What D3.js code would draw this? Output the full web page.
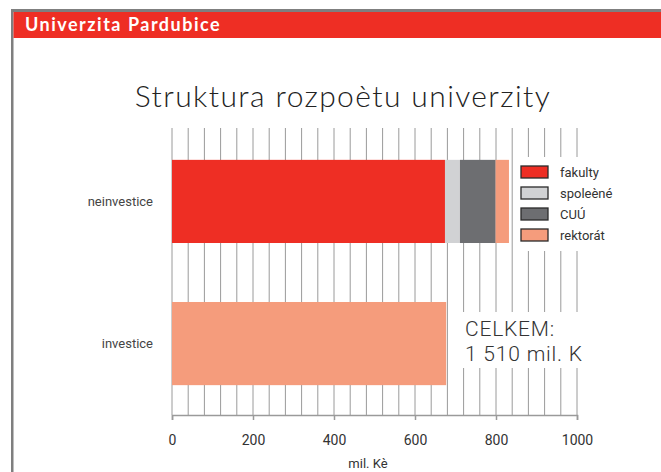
<!DOCTYPE html>
<html>
<head>
<meta charset="utf-8">
<script src="https://cdn.jsdelivr.net/npm/d3@7"></script>
<style>
  body { margin: 0; background: #fff; }
  svg { display: block; }
</style>
</head>
<body>
<svg width="661" height="472"></svg>
<script>
// data
var categories = ["neinvestice", "investice"];
var seriesNames = ["fakulty", "spoleèné", "CUÚ", "rektorát"];
var seriesColors = ["#ee2e24", "#d1d2d4", "#6d6e71", "#f59c7c"];
var neinvestice = [674, 37, 88, 33];
var investice = [0, 0, 0, 677];
var xTicks = [0, 200, 400, 600, 800, 1000];
var totalLines = ["CELKEM:", "1 510 mil. K"];

var svg = d3.select("svg");

// frame + header
svg.append("rect").attr("x", 11).attr("y", 9).attr("width", 650).attr("height", 3).attr("fill", "#7f7f7f");
svg.append("rect").attr("x", 11).attr("y", 9).attr("width", 2.5).attr("height", 463).attr("fill", "#7f7f7f");
svg.append("rect").attr("x", 13.5).attr("y", 12).attr("width", 648).attr("height", 26).attr("fill", "#ee2e24");
svg.append("text")
    .attr("x", 25).attr("y", 31)
    .attr("fill", "#fff")
    .attr("font-family", "Lato, 'Open Sans', sans-serif")
    .attr("font-weight", "bold")
    .attr("font-size", 18)
    .attr("letter-spacing", 1.5)
    .text("Univerzita Pardubice");

svg.append("text")
    .attr("x", 343).attr("y", 107)
    .attr("text-anchor", "middle")
    .attr("fill", "#222")
    .attr("font-family", "Lato, 'Open Sans', sans-serif")
    .attr("font-weight", 300)
    .attr("font-size", 30)
    .attr("letter-spacing", 1.4)
    .text("Struktura rozpoètu univerzity");

var x = d3.scaleLinear().domain([0, 1000]).range([172, 577]);
var y = d3.scaleBand().domain(categories).range([130, 415]).paddingInner(0.415).paddingOuter(0.21);

// gridlines every 40
svg.append("g").selectAll("line")
    .data(d3.range(0, 1001, 40))
    .enter().append("line")
    .attr("x1", function(d) { return x(d); })
    .attr("x2", function(d) { return x(d); })
    .attr("y1", 128).attr("y2", 415)
    .attr("stroke", "#9a9a9a")
    .attr("stroke-width", 1);

// bars
var table = categories.map(function(c, i) {
    var row = { cat: c };
    var vals = i === 0 ? neinvestice : investice;
    seriesNames.forEach(function(s, j) { row[s] = vals[j]; });
    return row;
});
var stack = d3.stack().keys(seriesNames)(table);

svg.append("g").selectAll("g")
    .data(stack)
    .enter().append("g")
    .attr("fill", function(d, i) { return seriesColors[i]; })
    .selectAll("rect")
    .data(function(d) { return d; })
    .enter().append("rect")
    .attr("x", function(d) { return x(d[0]); })
    .attr("y", function(d) { return y(d.data.cat); })
    .attr("width", function(d) { return x(d[1]) - x(d[0]); })
    .attr("height", y.bandwidth());

// white boxes behind legend and total
svg.append("rect").attr("x", 518).attr("y", 157).attr("width", 90).attr("height", 94).attr("fill", "#fff");
svg.append("rect").attr("x", 457).attr("y", 312).attr("width", 140).attr("height", 56).attr("fill", "#fff");

// x axis
var xAxis = svg.append("g")
    .attr("transform", "translate(0,415)")
    .call(d3.axisBottom(x).tickValues(xTicks).tickSize(5).tickPadding(15).tickFormat(d3.format("d")));
xAxis.select(".domain").attr("stroke", "#9a9a9a").attr("stroke-width", 1.5);
xAxis.selectAll(".tick line").attr("stroke", "#9a9a9a").attr("stroke-width", 1.5);
xAxis.selectAll(".tick text")
    .attr("fill", "#333")
    .attr("font-family", "Roboto, sans-serif")
    .attr("font-size", 14);

svg.append("text")
    .attr("x", 368).attr("y", 468)
    .attr("text-anchor", "middle")
    .attr("fill", "#333")
    .attr("font-family", "Roboto, sans-serif")
    .attr("font-size", 13)
    .text("mil. Kè");

// category labels
svg.append("g").selectAll("text")
    .data(categories)
    .enter().append("text")
    .attr("x", 153)
    .attr("y", function(d) { return y(d) + y.bandwidth() / 2; })
    .attr("dy", "0.35em")
    .attr("text-anchor", "end")
    .attr("fill", "#444")
    .attr("font-family", "Roboto, sans-serif")
    .attr("font-size", 13)
    .text(function(d) { return d; });

// legend
var legend = svg.append("g").selectAll("g")
    .data(seriesNames)
    .enter().append("g")
    .attr("transform", function(d, i) { return "translate(521," + (166 + i * 21) + ")"; });
legend.append("rect")
    .attr("width", 27).attr("height", 12)
    .attr("fill", function(d, i) { return seriesColors[i]; })
    .attr("stroke", "#2a2a2a")
    .attr("stroke-width", 1.3);
legend.append("text")
    .attr("x", 39).attr("y", 6)
    .attr("dy", "0.35em")
    .attr("fill", "#333")
    .attr("font-family", "Roboto, sans-serif")
    .attr("font-size", 13)
    .text(function(d) { return d; });

// total
svg.append("g").selectAll("text")
    .data(totalLines)
    .enter().append("text")
    .attr("x", 465)
    .attr("y", function(d, i) { return 336 + i * 25; })
    .attr("fill", "#333")
    .attr("font-family", "Roboto, sans-serif")
    .attr("font-weight", 300)
    .attr("font-size", 21)
    .attr("letter-spacing", 0.8)
    .text(function(d) { return d; });
</script>
</body>
</html>
